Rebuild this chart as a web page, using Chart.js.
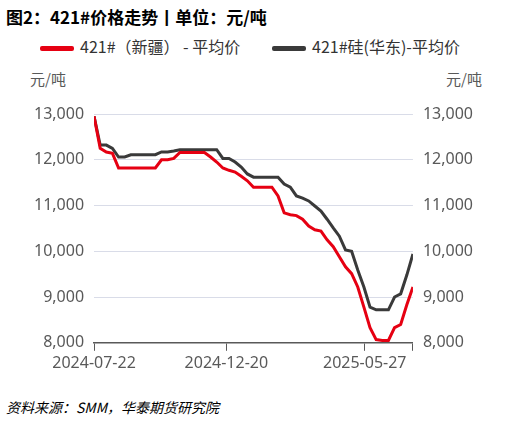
<!DOCTYPE html>
<html><head><meta charset="utf-8">
<script src="https://cdn.jsdelivr.net/npm/chart.js@4"></script>
<style>
body{margin:0;width:519px;height:426px;background:#fff;font-family:"Noto Sans CJK SC","Noto Sans",sans-serif;position:relative;overflow:hidden}
.t{position:absolute;white-space:nowrap}
#title{left:6px;top:4px;font-size:17px;font-weight:bold;color:#000}
.leg{top:34px;font-size:16px;color:#333}
.sw{display:inline-block;width:34px;height:5px;vertical-align:middle;margin-right:6px;border-radius:2px}
.unit{top:68px;font-size:15px;color:#595959}
#src{left:6px;top:397px;font-size:14px;font-style:italic;color:#000}
#wrap{position:absolute;left:0;top:90px;width:519px;height:290px}
</style></head><body>
<div class="t" id="title">图2：421#价格走势丨单位：元/吨</div>
<div class="t leg" style="left:40px"><span class="sw" style="background:#e60012"></span>421#（新疆） - 平均价</div>
<div class="t leg" style="left:272px"><span class="sw" style="background:#3a3a3a"></span>421#硅(华东)-平均价</div>
<div class="t unit" style="left:30px">元/吨</div>
<div class="t unit" style="left:446px">元/吨</div>
<div class="t" id="src">资料来源：SMM，华泰期货研究院</div>
<div id="wrap"><canvas id="c"></canvas></div>
<script>
const startDate = "2024-07-22"
const tickDates = ["2024-07-22", "2024-12-20", "2025-05-27"]
const yTicks = [8000, 9000, 10000, 11000, 12000, 13000]

const xinjiang = [12950, 12250, 12170, 12140, 11820, 11820, 11820, 11820, 11820, 11820,
  11820, 12000, 12000, 12030, 12160, 12160, 12160, 12160, 12160, 12060,
  11950, 11820, 11770, 11730, 11640, 11540, 11400, 11400, 11400, 11400,
  11210, 10840, 10800, 10780, 10700, 10550, 10470, 10440, 10250, 10100,
  9880, 9660, 9510, 9220, 8780, 8330, 8070, 8050, 8050, 8330,
  8400, 8830, 9220]
const huadong = [12950, 12320, 12320, 12250, 12060, 12060, 12110, 12110, 12110, 12110,
  12110, 12170, 12170, 12190, 12220, 12220, 12220, 12220, 12220, 12220,
  12220, 12030, 12030, 11950, 11840, 11690, 11620, 11620, 11620, 11620,
  11620, 11470, 11400, 11210, 11160, 11100, 10990, 10880, 10700, 10510,
  10330, 10030, 10000, 9590, 9220, 8780, 8720, 8720, 8720, 9000,
  9070, 9480, 9940]

const DAY = 86400000
const t0 = Date.parse(startDate)
const dayOf = (s) => Math.round((Date.parse(s) - t0) / DAY)
const fmt = (d) => new Date(t0 + d * DAY).toISOString().slice(0, 10)
const pts = (arr) => arr.map((v, i) => ({ x: i * 7, y: v }))
const lastDay = (huadong.length - 1) * 7
const tickFont = { family: "Noto Sans", size: 16 }

new Chart(document.getElementById("c"), {
  type: "line",
  data: {
    datasets: [
      { data: pts(xinjiang), borderColor: "#e60012", borderWidth: 3, pointRadius: 0 },
      { data: pts(huadong), borderColor: "#3a3a3a", borderWidth: 3, pointRadius: 0 }
    ]
  },
  options: {
    responsive: true,
    maintainAspectRatio: false,
    animation: false,
    layout: { padding: { left: 24, right: 36, top: 24, bottom: 4 } },
    plugins: { legend: { display: false }, tooltip: { enabled: false } },
    scales: {
      x: {
        type: "linear", min: 0, max: lastDay,
        afterBuildTicks: (ax) => { ax.ticks = tickDates.map(dayOf).concat([lastDay]).map(v => ({ value: v })) },
        ticks: { color: "#595959", font: tickFont, maxRotation: 0, autoSkip: false,
          callback: (v) => v === lastDay ? "" : fmt(v) },
        grid: { drawOnChartArea: false, tickLength: 8, color: "#595959" },
        border: { color: "#595959", width: 1.5 }
      },
      y: {
        min: 8000, max: 13000,
        afterBuildTicks: (ax) => { ax.ticks = yTicks.map(v => ({ value: v })) },
        ticks: { color: "#595959", font: tickFont, padding: 10, callback: (v) => v.toLocaleString("en-US") },
        grid: { color: "#d9dce8", drawTicks: false },
        border: { display: false }
      },
      y2: {
        position: "right", min: 8000, max: 13000,
        afterBuildTicks: (ax) => { ax.ticks = yTicks.map(v => ({ value: v })) },
        ticks: { color: "#595959", font: tickFont, padding: 10, callback: (v) => v.toLocaleString("en-US") },
        grid: { display: false, drawTicks: false },
        border: { display: false }
      }
    }
  }
})
</script>
</body></html>
